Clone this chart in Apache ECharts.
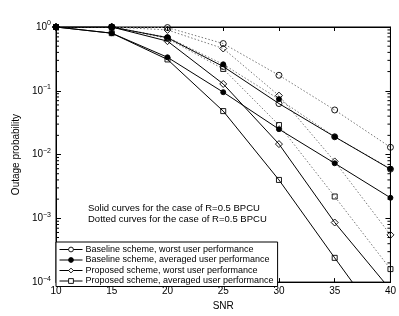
<!DOCTYPE html>
<html><head><meta charset="utf-8">
<script src="https://cdn.jsdelivr.net/npm/echarts@6/dist/echarts.min.js"></script>
<style>html,body{margin:0;padding:0;background:#fff}#c{width:399px;height:316px}</style>
</head><body><div id="c"></div>
<script>
const snr = [10, 15, 20, 25, 30, 35, 40];
const xTicks = [10, 15, 20, 25, 30, 35, 40];
const yExponents = [-4, -3, -2, -1, 0];
const legendNames = [
  'Baseline scheme, worst user performance',
  'Baseline scheme, averaged user performance',
  'Proposed scheme, worst user performance',
  'Proposed scheme, averaged user performance'
];
// solid curves
const solidBaselineWorst = [1, 1, 0.68, 0.24, 0.063, 0.019, 0.0059];
const solidBaselineAvg   = [1, 0.8, 0.335, 0.095, 0.025, 0.0073, 0.0021];
const solidProposedWorst = [1, 1, 0.6, 0.128, 0.0146, 0.00086, 0.000076];
const solidProposedAvg   = [1, 0.8, 0.31, 0.048, 0.004, 0.00024, 0.000015];
// dotted curves
const dotBaselineWorst = [1, 1, 0.98, 0.55, 0.175, 0.05, 0.013];
const dotBaselineAvg   = [1, 1, 0.69, 0.26, 0.074, 0.019, 0.006];
const dotProposedWorst = [1, 1, 0.9, 0.46, 0.084, 0.0078, 0.00055];
const dotProposedAvg   = [1, 1, 0.66, 0.22, 0.029, 0.0022, 0.00016];
const textLines = ['Solid curves for the case of R=0.5 BPCU', 'Dotted curves for the case of R=0.5 BPCU'];

const minorVals = [];
for (let d = -4; d < 0; d++) for (let m = 2; m <= 9; m++) minorVals.push(m * Math.pow(10, d));

const FONT = 'Liberation Sans, Arial, sans-serif';
const HOLLOW = 'rgba(255,255,255,0)';
const symbols = [
  {symbol: 'circle', size: 6, fill: HOLLOW},
  {symbol: 'circle', size: 5, fill: '#000'},
  {symbol: 'diamond', size: 7, fill: HOLLOW},
  {symbol: 'rect', size: 5, fill: HOLLOW}
];
const solidData = [solidBaselineWorst, solidBaselineAvg, solidProposedWorst, solidProposedAvg];
const dotData = [dotBaselineWorst, dotBaselineAvg, dotProposedWorst, dotProposedAvg];
const pairs = arr => snr.map((x, i) => [x, arr[i]]);

const series = [];
dotData.forEach((d, i) => {
  series.push({
    name: legendNames[i] + ' (dotted)', type: 'line', data: pairs(d),
    symbol: symbols[i].symbol, symbolSize: symbols[i].size,
    lineStyle: {color: '#777', width: 1, type: [1.5, 2]},
    itemStyle: {color: symbols[i].fill, borderColor: '#000', borderWidth: 0.9},
    clip: true, z: 2, animation: false
  });
});
solidData.forEach((d, i) => {
  series.push({
    name: legendNames[i], type: 'line', data: pairs(d),
    symbol: symbols[i].symbol, symbolSize: symbols[i].size,
    lineStyle: {color: '#000', width: 1},
    itemStyle: {color: symbols[i].fill, borderColor: '#000', borderWidth: 0.9},
    clip: true, z: 3, animation: false
  });
});
series.push({
  type: 'custom', silent: true, animation: false, z: 1,
  data: minorVals.map(v => [10, v]),
  renderItem: (params, api) => {
    const v = api.value(1);
    const p1 = api.coord([10, v]);
    const p2 = api.coord([40, v]);
    return {type: 'group', children: [
      {type: 'line', shape: {x1: p1[0], y1: p1[1], x2: p1[0] + 3, y2: p1[1]}, style: {stroke: '#000', lineWidth: 1}},
      {type: 'line', shape: {x1: p2[0] - 3, y1: p2[1], x2: p2[0], y2: p2[1]}, style: {stroke: '#000', lineWidth: 1}}
    ]};
  }
});

const yFmt = v => {
  const e = Math.round(Math.log10(v));
  return '{a|10}{b|' + (e < 0 ? '\u2212' + (-e) : e) + '}';
};

const chart = echarts.init(document.getElementById('c'), null, {renderer: 'canvas'});
chart.setOption({
  backgroundColor: '#fff',
  animation: false,
  textStyle: {fontFamily: FONT},
  grid: {left: 56, top: 27, right: 8, bottom: 25, show: true, borderColor: '#000', borderWidth: 1},
  xAxis: [{
    type: 'value', min: 10, max: 40, interval: 5,
    name: 'SNR', nameLocation: 'middle', nameGap: 17,
    nameTextStyle: {fontSize: 10, color: '#000', fontFamily: FONT},
    axisLine: {lineStyle: {color: '#000'}},
    axisTick: {inside: true, length: 4, lineStyle: {color: '#000'}},
    axisLabel: {fontSize: 10, color: '#000', margin: 4, fontFamily: FONT,
      formatter: v => xTicks.includes(v) ? String(v) : ''},
    splitLine: {show: false}
  }, {
    type: 'value', min: 10, max: 40, interval: 5, position: 'top',
    axisLine: {lineStyle: {color: '#000'}},
    axisTick: {inside: true, length: 4, lineStyle: {color: '#000'}},
    axisLabel: {show: false}, splitLine: {show: false}
  }],
  yAxis: [{
    type: 'log', logBase: 10, min: Math.pow(10, yExponents[0]), max: Math.pow(10, yExponents[yExponents.length - 1]),
    name: 'Outage probability', nameLocation: 'middle', nameGap: 27,
    nameTextStyle: {fontSize: 10, color: '#000', fontFamily: FONT},
    axisLine: {lineStyle: {color: '#000'}},
    axisTick: {inside: true, length: 5, lineStyle: {color: '#000'}},
    axisLabel: {color: '#000', margin: 5, formatter: yFmt,
      rich: {a: {fontSize: 10, fontFamily: FONT, color: '#000'},
             b: {fontSize: 7, fontFamily: FONT, color: '#000', padding: [0, 0, 7, 0]}}},
    splitLine: {show: false}
  }, {
    type: 'log', logBase: 10, min: Math.pow(10, yExponents[0]), max: 1, position: 'right',
    axisLine: {lineStyle: {color: '#000'}},
    axisTick: {inside: true, length: 5, lineStyle: {color: '#000'}},
    axisLabel: {show: false}, splitLine: {show: false}
  }],
  legend: {
    data: legendNames.map((n, i) => ({
      name: n,
      itemStyle: {color: symbols[i].fill === HOLLOW ? '#fff' : '#000', borderColor: '#000', borderWidth: 0.9},
      lineStyle: {color: '#000', width: 1}
    })),
    orient: 'vertical', left: 56, top: 242,
    itemWidth: 23, itemHeight: 6, itemGap: 1.5,
    padding: [3, 4, 1, 3],
    backgroundColor: '#fff', borderColor: '#000', borderWidth: 1,
    textStyle: {fontSize: 9, color: '#000', fontFamily: FONT, padding: [0, 0, 0, -2]},
    selectedMode: false
  },
  graphic: textLines.map((t, i) => ({
    type: 'text', left: 88, top: 203 + i * 11,
    style: {text: t, fontSize: 9.5, fontFamily: FONT, fill: '#000'}
  })),
  series: series
});
</script>
</body></html>
